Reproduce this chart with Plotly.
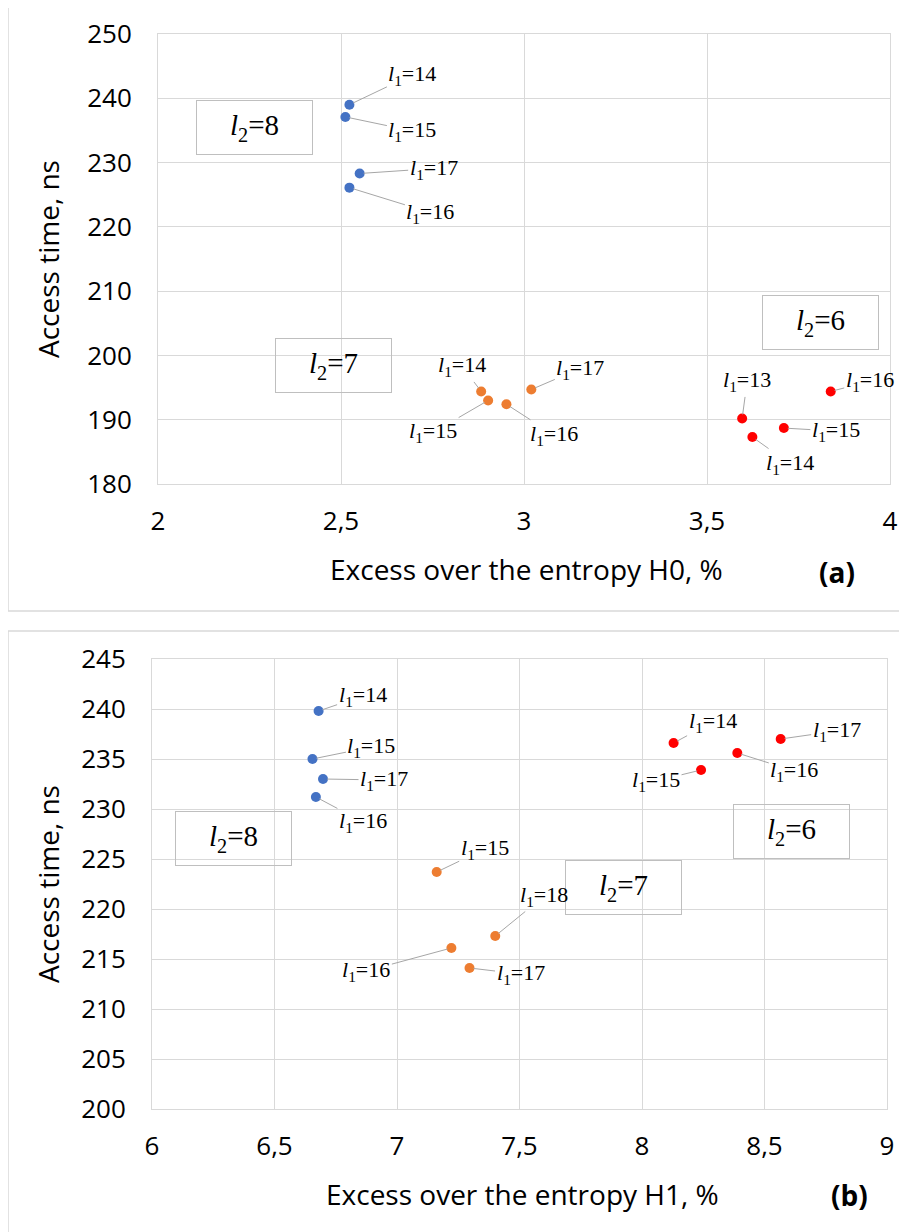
import plotly.graph_objects as go

# ---------------- data: panel (a) ----------------
a_xticks = [2, 2.5, 3, 3.5, 4]
a_xticktext = ["2", "2,5", "3", "3,5", "4"]
a_yticks = [180, 190, 200, 210, 220, 230, 240, 250]

a8_x = [2.523, 2.512, 2.551, 2.523]
a8_y = [239.0, 237.1, 228.3, 226.1]
a8_l1 = [14, 15, 17, 16]

a7_x = [2.883, 2.902, 2.952, 3.020]
a7_y = [194.4, 193.0, 192.4, 194.7]
a7_l1 = [14, 15, 16, 17]

a6_x = [3.596, 3.624, 3.710, 3.838]
a6_y = [190.2, 187.3, 188.7, 194.4]
a6_l1 = [13, 14, 15, 16]

# ---------------- data: panel (b) ----------------
b_xticks = [6, 6.5, 7, 7.5, 8, 8.5, 9]
b_xticktext = ["6", "6,5", "7", "7,5", "8", "8,5", "9"]
b_yticks = [200, 205, 210, 215, 220, 225, 230, 235, 240, 245]

b8_x = [6.680, 6.655, 6.698, 6.669]
b8_y = [239.8, 235.0, 233.0, 231.2]
b8_l1 = [14, 15, 17, 16]

b7_x = [7.162, 7.401, 7.222, 7.296]
b7_y = [223.7, 217.3, 216.1, 214.1]
b7_l1 = [15, 18, 16, 17]

b6_x = [8.129, 8.241, 8.389, 8.566]
b6_y = [236.6, 233.9, 235.6, 237.0]
b6_l1 = [14, 15, 16, 17]

# ---------------- styling ----------------
PAGE_OFF = 8                      # default page margin of the html body
W, H = 907 - PAGE_OFF, 1232 - PAGE_OFF
BLUE, ORANGE, RED = "#4472C4", "#ED7D31", "#FF0000"
GRID = "#D9D9D9"
LEADER = "#A6A6A6"
SANS = "Open Sans"
SERIF = "Liberation Serif"

# label offsets (pixels, label centre relative to point)
a8_off = [(63, -30), (67, 14), (74, -5), (81, 25)]
a7_off = [(-19, -25), (-55, 32), (48, 31), (49, -21)]
a6_off = [(5, -37), (38, 27), (52, 3), (39, -10)]
b8_off = [(44, -15), (59, -12), (61, 1), (47, 25)]
b7_off = [(48, -23), (49, -40), (-85, 23), (51, 6)]
b6_off = [(39, -21), (-45, 11), (57, 18), (56, -8)]


def px(x):
    return (x - PAGE_OFF) / W


def py(y):
    return 1 - (y - PAGE_OFF) / H


fig = go.Figure()

series = [
    ("x", "y", a8_x, a8_y, a8_l1, a8_off, BLUE),
    ("x", "y", a7_x, a7_y, a7_l1, a7_off, ORANGE),
    ("x", "y", a6_x, a6_y, a6_l1, a6_off, RED),
    ("x2", "y2", b8_x, b8_y, b8_l1, b8_off, BLUE),
    ("x2", "y2", b7_x, b7_y, b7_l1, b7_off, ORANGE),
    ("x2", "y2", b6_x, b6_y, b6_l1, b6_off, RED),
]

annotations = []

# l2 boxes (reference pixels: centre x, centre y)
boxes = [(254, 128, 8), (333, 365, 7), (820, 323, 6),
         (233, 838, 8), (791, 831, 6), (623, 887, 7)]
for cx, cy, l2 in boxes:
    annotations.append(dict(
        x=px(cx), y=py(cy), xref="paper", yref="paper", showarrow=False,
        xanchor="center", yanchor="middle",
        text=f"<i>l</i><sub>2</sub>=" + str(l2),
        width=113, height=51, borderpad=1, bordercolor="#BFBFBF", borderwidth=1,
        bgcolor="rgba(0,0,0,0)",
        font=dict(family=SERIF, size=29, color="#000000")))

for xa, ya, xs, ys, l1s, offs, col in series:
    fig.add_trace(go.Scatter(
        x=xs, y=ys, mode="markers", xaxis=xa, yaxis=ya,
        marker=dict(size=10, color=col), showlegend=False, hoverinfo="x+y"))
    for xv, yv, l1, (dx, dy) in zip(xs, ys, l1s, offs):
        annotations.append(dict(
            x=xv, y=yv, xref=xa, yref=ya,
            text=f"<i>l</i><sub>1</sub>=" + str(l1),
            showarrow=True, arrowhead=0, arrowwidth=1, arrowcolor=LEADER,
            ax=dx, ay=dy, standoff=4, xanchor="center", yanchor="middle",
            font=dict(family=SERIF, size=22, color="#000000")))

TITLE = dict(family=SANS, size=28, color="#000")
C = dict(xref="paper", yref="paper", showarrow=False, xanchor="center", yanchor="middle")
annotations += [
    dict(x=px(526), y=py(569), text="Excess over the entropy H0, %", font=TITLE, **C),
    dict(x=px(48), y=py(259), textangle=-90, text="Access time, ns", font=TITLE, **C),
    dict(x=px(837), y=py(572), text="<b>(a)</b>", font=TITLE, **C),
    dict(x=px(522), y=py(1194), text="Excess over the entropy H1, %", font=TITLE, **C),
    dict(x=px(48), y=py(884), textangle=-90, text="Access time, ns", font=TITLE, **C),
    dict(x=px(849), y=py(1195), text="<b>(b)</b>", font=TITLE, **C),
]

shapes = [
    dict(type="rect", xref="paper", yref="paper", x0=px(8), x1=px(930), y0=py(611), y1=py(5),
         line=dict(color=GRID, width=1.5), layer="below"),
    dict(type="rect", xref="paper", yref="paper", x0=px(8), x1=px(930), y0=py(1260), y1=py(631),
         line=dict(color=GRID, width=1.5), layer="below"),
]

axis_common = dict(showgrid=True, gridcolor=GRID, gridwidth=1, zeroline=False,
                   showline=True, linecolor=GRID, linewidth=1, mirror=True,
                   automargin=False,
                   ticks="", tickfont=dict(family=SANS, size=26, color="#000"))

fig.update_layout(
    width=W, height=H, margin=dict(l=0, r=0, t=0, b=0, autoexpand=False),
    paper_bgcolor="white", plot_bgcolor="white",
    annotations=annotations, shapes=shapes, showlegend=False,
    xaxis=dict(domain=[px(158), px(890)], range=[2, 4], tickvals=a_xticks, ticktext=a_xticktext,
               anchor="y", ticklabelstandoff=14, **axis_common),
    yaxis=dict(domain=[py(484), py(34)], range=[180, 250], tickvals=a_yticks,
               anchor="x", ticklabelstandoff=20, **axis_common),
    xaxis2=dict(domain=[px(152), px(887)], range=[6, 9], tickvals=b_xticks, ticktext=b_xticktext,
                anchor="y2", ticklabelstandoff=14, **axis_common),
    yaxis2=dict(domain=[py(1109), py(659)], range=[200, 245], tickvals=b_yticks,
                anchor="x2", ticklabelstandoff=20, **axis_common),
)

fig.write_html("out.html")
